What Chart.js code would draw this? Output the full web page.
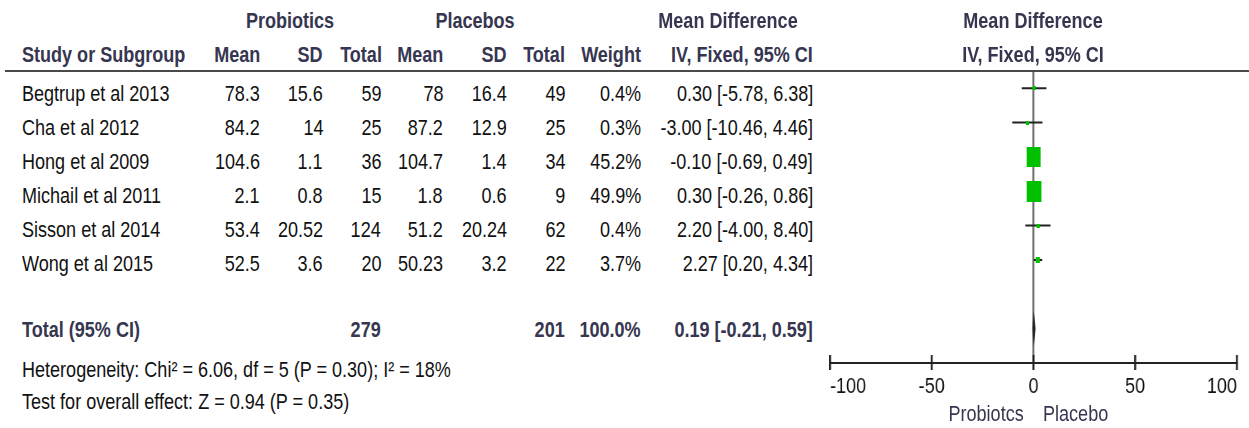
<!DOCTYPE html>
<html>
<head>
<meta charset="utf-8">
<script src="https://cdn.jsdelivr.net/npm/chart.js@4.4.1/dist/chart.umd.min.js"></script>
<style>
  html, body { margin: 0; padding: 0; background: #fff; }
  #page { position: relative; width: 1249px; height: 428px; overflow: hidden;
          font-family: "Liberation Sans", Arial, sans-serif; font-size: 22px; color: #111; }
  .t { position: absolute; white-space: nowrap; line-height: 26px; height: 26px; }
  .b { font-weight: bold; color: #363650; }
  #rule { position: absolute; left: 5px; top: 70px; width: 1244px; height: 0; border-top: 2px solid #4a4a4a; z-index: 2; }
  /* the plot is drawn wide and condensed horizontally so its text reads as a narrow face */
  #plot { position: absolute; left: 820px; top: 0; width: 523px; height: 428px;
          transform: scaleX(0.82); transform-origin: 0 0; }
</style>
</head>
<body>
<div id="page">
  <div id="rule"></div>
  <div id="plot"><canvas id="forest" width="523" height="428"></canvas></div>
</div>
<script>
// Study rows
const studies   = ['Begtrup et al 2013', 'Cha et al 2012', 'Hong et al 2009', 'Michail et al 2011', 'Sisson et al 2014', 'Wong et al 2015'];
const probMean  = [78.3, 84.2, 104.6, 2.1, 53.4, 52.5];
const probSD    = [15.6, 14, 1.1, 0.8, 20.52, 3.6];
const probN     = [59, 25, 36, 15, 124, 20];
const placMean  = [78, 87.2, 104.7, 1.8, 51.2, 50.23];
const placSD    = [16.4, 12.9, 1.4, 0.6, 20.24, 3.2];
const placN     = [49, 25, 34, 9, 62, 22];
const weights   = [0.4, 0.3, 45.2, 49.9, 0.4, 3.7];
const meanDiff  = [0.30, -3.00, -0.10, 0.30, 2.20, 2.27];
const ciLow     = [-5.78, -10.46, -0.69, -0.26, -4.00, 0.20];
const ciHigh    = [6.38, 4.46, 0.49, 0.86, 8.40, 4.34];

// Pooled result
const totalProbN  = 279;
const totalPlacN  = 201;
const totalWeight = 100.0;
const totalMD     = 0.19;
const totalLow    = -0.21;
const totalHigh   = 0.59;

// Axis
const xTicks = [-100, -50, 0, 50, 100];
const favoursLeft  = 'Probiotcs';
const favoursRight = 'Placebo';

const heterogeneityText = 'Heterogeneity: Chi² = 6.06, df = 5 (P = 0.30); I² = 18%';
const overallEffectText = 'Test for overall effect: Z = 0.94 (P = 0.35)';

const FONT = '"Liberation Sans", Arial, sans-serif';
const SQUEEZE = 0.82;
const page = document.getElementById('page');

// place a text label; align: 'left' | 'right' | 'center'
function put(text, x, yc, align, bold) {
  const d = document.createElement('div');
  d.className = 't' + (bold ? ' b' : '');
  d.textContent = text;
  d.style.top = (yc - 13) + 'px';
  d.style.transform = 'scaleX(' + SQUEEZE + ')';
  if (align === 'right') {
    d.style.right = (1249 - x) + 'px';
    d.style.transformOrigin = '100% 50%';
  } else if (align === 'center') {
    d.style.left = (x - 200) + 'px'; d.style.width = '400px'; d.style.textAlign = 'center';
    d.style.transformOrigin = '50% 50%';
  } else {
    d.style.left = x + 'px';
    d.style.transformOrigin = '0 50%';
  }
  page.appendChild(d);
  return d;
}
const ci = (m, lo, hi) => m.toFixed(2) + ' [' + lo.toFixed(2) + ', ' + hi.toFixed(2) + ']';

// header
put('Probiotics', 290, 21, 'center', true);
put('Placebos', 475, 21, 'center', true);
put('Mean Difference', 728, 21, 'center', true);
put('Mean Difference', 1033, 21, 'center', true);
put('Study or Subgroup', 22, 55, 'left', true);
put('Mean', 260, 55, 'right', true);
put('SD', 323, 55, 'right', true);
put('Total', 382, 55, 'right', true);
put('Mean', 443, 55, 'right', true);
put('SD', 507, 55, 'right', true);
put('Total', 565, 55, 'right', true);
put('Weight', 641, 55, 'right', true);
put('IV, Fixed, 95% CI', 813, 55, 'right', true);
put('IV, Fixed, 95% CI', 1033, 55, 'center', true);

// study rows
studies.forEach((s, i) => {
  const y = 94 + 34 * i;
  put(s, 22, y, 'left');
  put(String(probMean[i]), 260, y, 'right');
  put(String(probSD[i]), 323, y, 'right');
  put(String(probN[i]), 381, y, 'right');
  put(String(placMean[i]), 443, y, 'right');
  put(String(placSD[i]), 507, y, 'right');
  put(String(placN[i]), 565, y, 'right');
  put(weights[i].toFixed(1) + '%', 641, y, 'right');
  put(ci(meanDiff[i], ciLow[i], ciHigh[i]), 813, y, 'right');
});

// total row and footnotes
put('Total (95% CI)', 22, 330, 'left', true);
put(String(totalProbN), 381, 330, 'right', true);
put(String(totalPlacN), 565, 330, 'right', true);
put(totalWeight.toFixed(1) + '%', 641, 330, 'right', true);
put(ci(totalMD, totalLow, totalHigh), 813, 330, 'right', true);
put(heterogeneityText, 22, 370, 'left');
put(overallEffectText, 22, 402, 'left');

// favours labels under the axis
const favL = put(favoursLeft, 1024, 414, 'right'); favL.style.color = '#363650';
const favR = put(favoursRight, 1043, 414, 'left'); favR.style.color = '#363650';

// weight-sized marker boxes (drawn wide, the plot is condensed horizontally)
function box(w) {
  const c = document.createElement('canvas');
  c.width = Math.max(4, Math.round(2.1 * Math.sqrt(w) / SQUEEZE));
  c.height = Math.max(4, Math.round(2.95 * Math.sqrt(w)));
  const g = c.getContext('2d');
  g.fillStyle = '#00c000';
  g.fillRect(0, 0, c.width, c.height);
  return c;
}
const boxes = weights.map(box);

const totalRow = studies.length + 1;
const datasets = [];
// point estimates
datasets.push({
  type: 'scatter',
  data: meanDiff.map((m, i) => ({ x: m, y: i })),
  pointStyle: ctx => boxes[ctx.dataIndex],
  pointRadius: 4,
  order: 0
});
// confidence intervals
studies.forEach((s, i) => {
  datasets.push({
    type: 'line',
    data: [{ x: ciLow[i], y: i }, { x: ciHigh[i], y: i }],
    borderColor: '#222', borderWidth: 2, pointRadius: 0, order: 1
  });
});
// pooled diamond
datasets.push({
  type: 'line',
  data: [{ x: totalLow, y: totalRow }, { x: totalMD, y: totalRow - 0.25 }, { x: totalHigh, y: totalRow },
         { x: totalMD, y: totalRow + 0.25 }, { x: totalLow, y: totalRow }],
  borderColor: '#222', borderWidth: 2, pointRadius: 0, tension: 0, order: 1
});

// tick marks crossing the axis line
const crossTicks = {
  id: 'crossTicks',
  afterDraw(chart) {
    const s = chart.scales.x, g = chart.ctx;
    g.save();
    g.strokeStyle = '#222';
    g.lineWidth = 2.4;
    s.ticks.forEach(t => {
      const x = s.getPixelForValue(t.value);
      g.beginPath();
      g.moveTo(x, s.top - 8);
      g.lineTo(x, s.top + 7);
      g.stroke();
    });
    g.restore();
  }
};

new Chart(document.getElementById('forest'), {
  data: { datasets },
  options: {
    responsive: false,
    animation: false,
    devicePixelRatio: 1,
    layout: { padding: { left: 12.2, right: 14.6, top: 71, bottom: 0 } },
    plugins: { legend: { display: false }, tooltip: { enabled: false } },
    scales: {
      x: {
        type: 'linear', min: xTicks[0], max: xTicks[xTicks.length - 1],
        afterBuildTicks: s => { s.ticks = xTicks.map(v => ({ value: v })); },
        afterFit: s => { s.height = 65; },
        ticks: { align: 'inner', padding: 4, color: '#111', font: { family: FONT, size: 22 } },
        grid: {
          color: ctx => (ctx.tick && ctx.tick.value === 0) ? '#707070' : 'rgba(0,0,0,0)',
          lineWidth: 2.4, tickLength: 7, tickColor: 'rgba(0,0,0,0)'
        },
        border: { color: '#222', width: 2 }
      },
      y: { type: 'linear', reverse: true, min: -0.5, max: 8, display: false }
    }
  },
  plugins: [crossTicks]
});
</script>
</body>
</html>
